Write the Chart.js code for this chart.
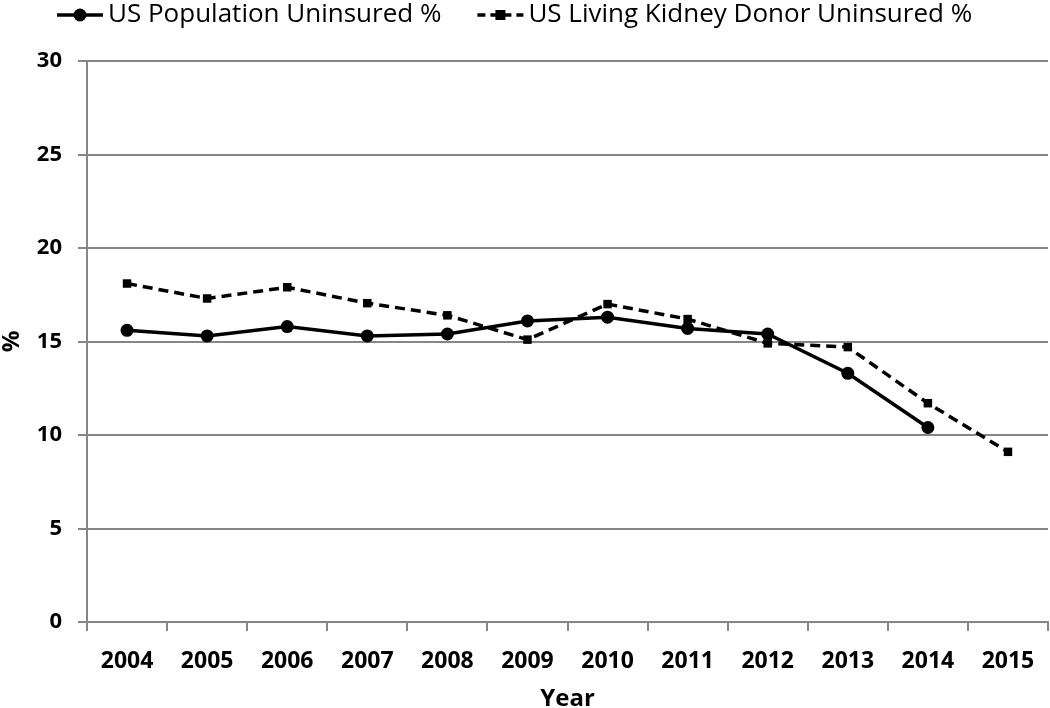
<!DOCTYPE html>
<html>
<head>
<meta charset="utf-8">
<script src="https://cdn.jsdelivr.net/npm/chart.js@4.4.1/dist/chart.umd.min.js"></script>
<style>
  html, body { margin: 0; padding: 0; background: #fff; }
  #wrap { width: 1050px; height: 708px; }
</style>
</head>
<body>
<div id="wrap"><canvas id="myChart" width="1050" height="708"></canvas></div>
<script>
const years = ['2004', '2005', '2006', '2007', '2008', '2009', '2010', '2011', '2012', '2013', '2014', '2015'];
const populationUninsured = [15.6, 15.3, 15.8, 15.3, 15.4, 16.1, 16.3, 15.7, 15.4, 13.3, 10.4, null];
const donorUninsured = [18.1, 17.3, 17.9, 17.05, 16.4, 15.1, 17.0, 16.2, 14.9, 14.7, 11.7, 9.1];
const yTicks = [0, 5, 10, 15, 20, 25, 30];

const FONT = '"Open Sans", "DejaVu Sans", sans-serif';
const GRID = '#868686';
const LEGEND_LINE = 46;

// legend: draw line + marker for each item, and fix the legend box height
const legendMarkers = {
    id: 'legendMarkers',
    afterInit(chart) {
        const legend = chart.legend;
        if (!legend) return;
        const fit = legend.fit;
        legend.fit = function () {
            fit.call(this);
            this.height = 95;
        };
    },
    afterDraw(chart) {
        const legend = chart.legend;
        if (!legend || !legend.legendHitBoxes) return;
        const ctx = chart.ctx;
        const fontSize = legend.options.labels.font.size;
        legend.legendHitBoxes.forEach((hb, i) => {
            const ds = chart.data.datasets[i];
            const cy = hb.top + fontSize / 2;
            const cx = hb.left + LEGEND_LINE / 2;
            ctx.save();
            ctx.strokeStyle = '#000';
            ctx.lineWidth = 3.5;
            ctx.setLineDash(ds.borderDash ? [8, 5] : []);
            ctx.beginPath();
            ctx.moveTo(hb.left, cy);
            ctx.lineTo(hb.left + LEGEND_LINE, cy);
            ctx.stroke();
            ctx.fillStyle = '#000';
            if (ds.pointStyle === 'rect') {
                ctx.fillRect(cx - 5, cy - 5, 10, 10);
            } else {
                ctx.beginPath();
                ctx.arc(cx, cy, 6.5, 0, Math.PI * 2);
                ctx.fill();
            }
            ctx.restore();
        });
    }
};

const ctx = document.getElementById('myChart').getContext('2d');
new Chart(ctx, {
    type: 'line',
    data: {
        labels: years,
        datasets: [{
            label: 'US Population Uninsured %',
            data: populationUninsured,
            borderColor: '#000',
            backgroundColor: '#000',
            borderWidth: 3.5,
            pointStyle: 'circle',
            pointRadius: 6.5,
            pointBorderWidth: 0,
            tension: 0
        }, {
            label: 'US Living Kidney Donor Uninsured %',
            data: donorUninsured,
            borderColor: '#000',
            backgroundColor: '#000',
            borderWidth: 3.5,
            borderDash: [10, 6],
            pointStyle: 'rect',
            pointRadius: 6,
            pointBorderWidth: 0,
            tension: 0
        }]
    },
    options: {
        responsive: false,
        animation: false,
        layout: {
            autoPadding: false,
            padding: { left: 21, right: 2, top: -34, bottom: 0 }
        },
        plugins: {
            legend: {
                display: true,
                position: 'top',
                align: 'start',
                labels: {
                    color: '#000',
                    font: { family: FONT, size: 26 },
                    boxWidth: 38,
                    boxHeight: 0,
                    padding: 36,
                    generateLabels(chart) {
                        return chart.data.datasets.map((ds, i) => ({
                            text: ds.label,
                            fillStyle: 'rgba(0,0,0,0)',
                            strokeStyle: 'rgba(0,0,0,0)',
                            lineWidth: 0,
                            hidden: false,
                            datasetIndex: i,
                            fontColor: '#000'
                        }));
                    }
                }
            },
            tooltip: { enabled: false }
        },
        scales: {
            x: {
                type: 'category',
                offset: true,
                afterFit(scale) {
                    scale.height = 86;
                    scale.paddingLeft = 0;
                    scale.paddingRight = 0;
                },
                grid: {
                    offset: true,
                    drawOnChartArea: false,
                    drawTicks: true,
                    tickLength: 9,
                    color: GRID,
                    lineWidth: 2
                },
                border: { display: true, color: GRID, width: 2 },
                ticks: {
                    color: '#000',
                    font: { family: FONT, size: 23, weight: 'bold' },
                    padding: 17,
                    maxRotation: 0,
                    autoSkip: false
                },
                title: {
                    display: true,
                    text: 'Year',
                    color: '#000',
                    font: { family: FONT, size: 24, weight: 'bold' },
                    padding: { top: 0, bottom: -6 }
                }
            },
            y: {
                min: 0,
                max: 30,
                afterFit(scale) { scale.width = 66; },
                afterBuildTicks(scale) {
                    scale.ticks = yTicks.map(v => ({ value: v }));
                },
                grid: {
                    color: GRID,
                    lineWidth: 2,
                    drawTicks: true,
                    tickLength: 9
                },
                border: { display: true, color: GRID, width: 2 },
                ticks: {
                    color: '#000',
                    font: { family: FONT, size: 22, weight: 'bold' },
                    padding: 16
                },
                title: {
                    display: true,
                    text: '%',
                    color: '#000',
                    font: { family: FONT, size: 24, weight: 'bold' },
                    padding: { top: -23, bottom: 0 }
                }
            }
        }
    },
    plugins: [legendMarkers]
});
</script>
</body>
</html>
